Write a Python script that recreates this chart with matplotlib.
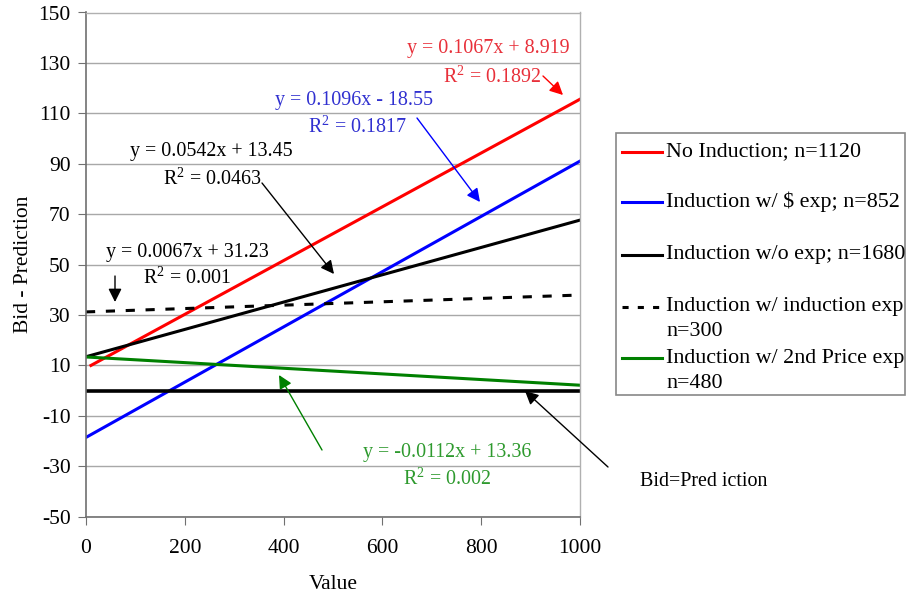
import matplotlib

matplotlib.use("Agg")

import matplotlib.pyplot as plt
from matplotlib.lines import Line2D
from matplotlib.patches import Rectangle

plt.rcParams["font.family"] = ["Liberation Serif", "DejaVu Serif"]
plt.rcParams["mathtext.fontset"] = "custom"
plt.rcParams["mathtext.rm"] = "Liberation Serif"
plt.rcParams["axes.unicode_minus"] = False

# trend line end points
x_red = [10, 1000]
y_red = [10.0, 115.6]
x_blue = [0, 1000]
y_blue = [-18.55, 91.05]
x_black = [0, 1000]
y_black = [13.45, 67.65]
x_dash = [0, 1000]
y_dash = [31.23, 37.93]
x_green = [0, 1000]
y_green = [13.36, 2.16]
x_zero = [0, 1000]
y_zero = [0, 0]

labels = [
    "No Induction; n=1120",
    "Induction w/ \\$ exp; n=852",
    "Induction w/o exp; n=1680",
    "Induction w/ induction exp\nn=300",
    "Induction w/ 2nd Price exp\nn=480",
]

W, H = 907, 594
fig = plt.figure(figsize=(W / 100, H / 100), dpi=100)
ax = fig.add_axes([86 / W, 1 - 516.7 / H, 494 / W, 504.2 / H])

lw = 2.2
dash = (0, (3, 3.5))
h1, = ax.plot(x_red, y_red, color="#ff0000", lw=lw)
h2, = ax.plot(x_blue, y_blue, color="#0000ff", lw=lw)
h3, = ax.plot(x_black, y_black, color="black", lw=lw)
h4, = ax.plot(x_dash, y_dash, color="black", lw=lw, ls=dash)
h5, = ax.plot(x_green, y_green, color="#008000", lw=lw)
ax.plot(x_zero, y_zero, color="black", lw=2.6)

ax.set_xlim(0, 1000)
ax.set_ylim(-50, 150)
ax.set_xticks(range(0, 1001, 200))
ax.set_yticks(range(-50, 151, 20))
ax.grid(axis="y", color="#a8a8a8", lw=1)
ax.set_axisbelow(True)
for s in ["left", "bottom"]:
    ax.spines[s].set_color("#707070")
    ax.spines[s].set_linewidth(1.2)
for s in ["top", "right"]:
    ax.spines[s].set_color("#b0b0b0")
    ax.spines[s].set_linewidth(1)
ax.tick_params(axis="both", labelsize=15.5, length=6, color="#707070")
ax.tick_params(axis="y", pad=5)
ax.tick_params(axis="x", pad=10)
ax.set_xlabel("Value", fontsize=15.5, labelpad=12)
ax.set_ylabel("Bid - Prediction", fontsize=15.5, labelpad=4)


def note(text, px, py, color, ha="center"):
    fig.text(px / W, 1 - py / H, text, color=color, fontsize=14.4,
             ha=ha, va="center")


def arrow(x0, y0, x1, y1, color):
    ax.annotate("", xy=(x1, H - y1), xycoords="figure pixels",
                xytext=(x0, H - y0), textcoords="figure pixels",
                arrowprops=dict(arrowstyle="-|>", color=color, lw=1,
                                mutation_scale=20, shrinkA=0, shrinkB=0),
                annotation_clip=False)


red_t = "#e8303a"
blue_t = "#3030d0"
green_t = "#2e9a2e"

note("y = 0.1067x + 8.919", 488, 48, red_t)
note("R$^2$ = 0.1892", 492, 77, red_t)
arrow(543, 76, 563, 95, "#ff0000")

note("y = 0.1096x - 18.55", 354, 101, blue_t)
note("R$^2$ = 0.1817", 357, 127, blue_t)
arrow(417, 118, 480, 202, "#0000ff")

note("y = 0.0542x + 13.45", 211, 152, "black")
note("R$^2$ = 0.0463", 212, 179, "black")
arrow(262, 183, 334, 274, "black")

note("y = 0.0067x + 31.23", 187, 252, "black")
note("R$^2$ = 0.001", 187, 278, "black")
arrow(115, 276, 115, 302, "black")

note("y = -0.0112x + 13.36", 447, 452, green_t)
note("R$^2$ = 0.002", 447, 479, green_t)
arrow(322, 450, 279, 375, "#008000")

note("Bid=Pred iction", 640, 481, "black", ha="left")
arrow(608, 467, 525, 391, "black")

# legend box drawn in figure pixels
fig.patches.append(Rectangle((616, H - 395), 289, 262, transform=None,
                             fill=False, edgecolor="#888888", lw=1.2))
entry_y = [152, 202, 255, 307, 358]
for handle, label, py in zip([h1, h2, h3, h4, h5], labels, entry_y):
    fig.lines.append(Line2D([622, 662], [H - py, H - py], transform=None,
                            color=handle.get_color(), lw=lw,
                            ls=handle.get_linestyle() if handle is not h4 else (0, (2, 3))))
    for i, part in enumerate(label.split("\n")):
        fig.text(666 / W, 1 - (py + 25 * i) / H, part, fontsize=15.8,
                 ha="left", va="center")

fig.savefig("out.png", dpi=100)
